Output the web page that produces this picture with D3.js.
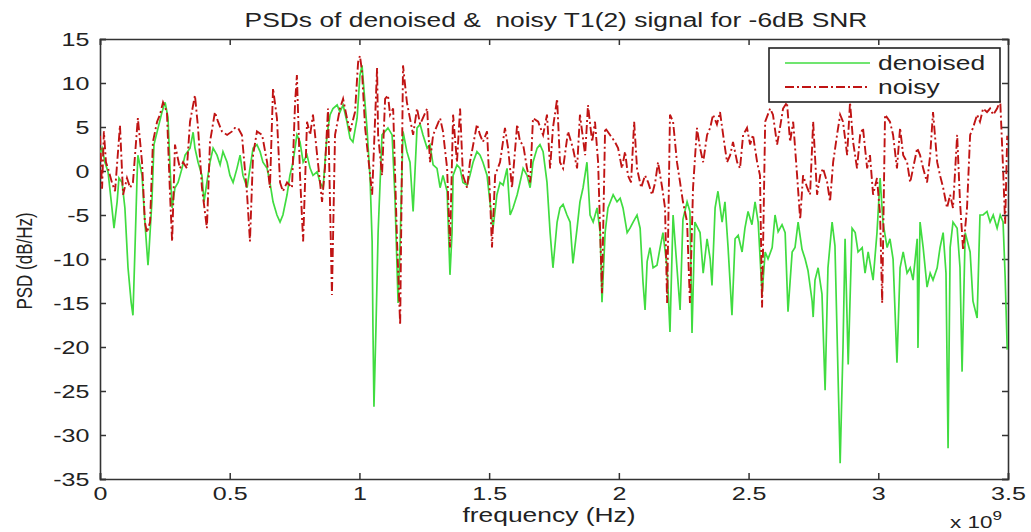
<!DOCTYPE html>
<html>
<head>
<meta charset="utf-8">
<script src="https://cdn.jsdelivr.net/npm/d3@7"></script>
<style>
  body { margin: 0; background: #fff; }
  text { font-family: "Liberation Sans", Arial, sans-serif; fill: #222; }
</style>
</head>
<body>
<div id="canvas"></div>
<script>
"use strict"

let svgWidth = 1031;
let svgHeight = 532;
let plot = {left: 100, right: 1008, top: 39, bottom: 479};
let stretch = 1.32; // the original figure is wider than tall, text looks stretched

/* frequency (x 10^9 Hz), PSD (dB/Hz) */
let denoised = [
  [0.000, 2.0], [0.008, 2.6], [0.019, 1.0], [0.031, -0.1], [0.046, -4.2], [0.054, -6.5], [0.066, -3.5],
  [0.073, -0.8], [0.085, -1.3], [0.096, -4.2], [0.108, -11], [0.120, -14.9], [0.127, -16.4], [0.135, -8.7],
  [0.143, -0.5], [0.146, 1.8], [0.162, -0.5], [0.173, -5.8], [0.185, -10.7], [0.189, -9], [0.200, -3.5],
  [0.208, 3], [0.224, 4.9], [0.239, 6.7], [0.251, 7.8], [0.262, 6.1], [0.270, 0.3], [0.278, -4.2],
  [0.289, -1.9], [0.301, -1.3], [0.316, 0.3], [0.328, 1.8], [0.347, 2.6], [0.359, 4.4], [0.366, 2.6],
  [0.378, 1.0], [0.393, -0.5], [0.401, -3.5], [0.412, -1.3], [0.424, 1.0], [0.436, 2.6], [0.451, 1.8],
  [0.463, 0.7], [0.474, 2.2], [0.490, 1.0], [0.501, -0.5], [0.513, -1.3], [0.528, 0.3], [0.540, 1.8],
  [0.551, -0.5], [0.567, -1.9], [0.578, 0.3], [0.590, 2.6], [0.605, 3.0], [0.617, 2.2], [0.628, 1.0],
  [0.644, 0.3], [0.655, -1.3], [0.667, -3.5], [0.682, -5], [0.694, -5.8], [0.705, -5], [0.721, -2.7],
  [0.732, -0.5], [0.744, 1.0], [0.759, 4.1], [0.771, 3.3], [0.783, 1.0], [0.798, 1.8], [0.810, 0.3],
  [0.821, -0.5], [0.837, -0.1], [0.848, -1.3], [0.860, -1.9], [0.875, 4.1], [0.887, 6.4], [0.898, 7.1],
  [0.914, 7.5], [0.925, 6.7], [0.937, 7.5], [0.952, 5.6], [0.964, 3.7], [0.975, 3.3], [0.991, 6],
  [1.002, 10.9], [1.010, 12], [1.014, 10.5], [1.029, 4.9], [1.041, -0.8], [1.049, -8], [1.052, -17.5],
  [1.056, -26.8], [1.064, -17.5], [1.072, -7], [1.087, 4.1], [1.099, 4.5], [1.110, 4.9], [1.126, 4.1],
  [1.137, -3], [1.149, -15], [1.157, -8], [1.168, 4.5], [1.183, 2.2], [1.195, 1], [1.207, -4.6],
  [1.222, 4.9], [1.234, 5.3], [1.245, 4.1], [1.261, 2.6], [1.272, 3.0], [1.284, 0.7], [1.299, 0.3],
  [1.311, -1.9], [1.322, -0.5], [1.338, -2.3], [1.349, -11.8], [1.357, -7], [1.361, -0.5], [1.376, 0.7],
  [1.388, 0.3], [1.399, -1.3], [1.415, -1.6], [1.426, -0.5], [1.438, 1.0], [1.453, 2.2], [1.465, 1.8],
  [1.476, 1.0], [1.492, -0.5], [1.503, -3.5], [1.515, -6.5], [1.530, -2.7], [1.542, -1.3], [1.554, -1.6],
  [1.569, 0.3], [1.581, -5], [1.592, -4.2], [1.608, -2.7], [1.619, -1.3], [1.631, 0.3], [1.646, -0.5],
  [1.658, -1.9], [1.669, 1.0], [1.685, 2.6], [1.696, 3.0], [1.708, 2.2], [1.723, -1.3], [1.735, -7],
  [1.746, -11], [1.762, -5.8], [1.773, -4.2], [1.785, -3.8], [1.800, -5], [1.812, -5.8], [1.823, -10.5],
  [1.839, -6.5], [1.850, -3.5], [1.862, -1.9], [1.877, 1.0], [1.889, -5], [1.901, -5.8], [1.916, -4.2],
  [1.928, -7], [1.935, -14.9], [1.947, -7], [1.958, -4.2], [1.978, -2.7], [1.993, -3.5], [2.005, -3.1],
  [2.016, -4.2], [2.032, -7], [2.043, -6.5], [2.055, -5.8], [2.070, -5], [2.082, -6.5], [2.093, -12.6],
  [2.101, -15.8], [2.109, -10.3], [2.120, -8.7], [2.132, -11], [2.147, -10.7], [2.159, -8.7], [2.170, -7],
  [2.186, -11], [2.197, -18.3], [2.209, -5], [2.224, -11], [2.236, -15.8], [2.247, -5.5], [2.263, -3.5],
  [2.274, -4.6], [2.282, -18.4], [2.293, -5.8], [2.313, -7], [2.325, -11.6], [2.340, -7.7], [2.352, -10],
  [2.359, -13], [2.371, -4.2], [2.382, -2.3], [2.398, -5.8], [2.409, -3.5], [2.421, -8.7], [2.436, -16.4],
  [2.448, -7.7], [2.460, -7.3], [2.475, -9.2], [2.486, -6.5], [2.498, -4.6], [2.513, -6.1], [2.525, -3.5],
  [2.537, -5.8], [2.552, -14], [2.564, -9.2], [2.575, -10], [2.591, -8.7], [2.602, -5], [2.614, -6.9],
  [2.629, -6.1], [2.641, -7], [2.652, -16], [2.668, -9.2], [2.679, -8.7], [2.691, -5.8], [2.706, -8.9],
  [2.718, -10], [2.729, -11.3], [2.745, -14.8], [2.749, -16.6], [2.756, -12.4], [2.768, -11], [2.783, -14],
  [2.795, -24.9], [2.806, -11], [2.822, -5.8], [2.833, -8.5], [2.853, -33.2], [2.864, -20], [2.872, -7.7],
  [2.884, -22], [2.899, -6.5], [2.911, -7], [2.922, -9.2], [2.938, -8.7], [2.949, -11.6], [2.961, -9.2],
  [2.980, -12.4], [2.995, -7], [3.007, -0.8], [3.018, -5.8], [3.034, -8.7], [3.045, -7.7], [3.057, -10],
  [3.072, -21.8], [3.084, -11], [3.096, -9.2], [3.111, -11.6], [3.123, -11], [3.134, -12.4], [3.150, -7.7],
  [3.153, -20.1], [3.161, -5.8], [3.173, -8.7], [3.188, -13.2], [3.200, -11.6], [3.211, -12.4], [3.227, -11],
  [3.238, -8.7], [3.250, -7], [3.261, -11.6], [3.269, -31.5], [3.277, -8.7], [3.288, -5.8], [3.304, -6.5],
  [3.315, -11], [3.323, -22.8], [3.335, -7], [3.354, -9.2], [3.365, -14.8], [3.381, -16.7], [3.392, -5],
  [3.404, -5], [3.419, -4.6], [3.431, -5.8], [3.443, -5], [3.458, -6.5], [3.470, -5], [3.481, -5.8],
  [3.489, -12], [3.497, -20.3]
];

let noisy = [
  [0.000, 4], [0.008, -2], [0.015, 4.5], [0.023, 1], [0.031, 0.3], [0.046, -1.3], [0.058, -2.3],
  [0.077, 5.2], [0.089, -2.7], [0.104, -0.8], [0.116, -1.9], [0.127, -1.3], [0.143, 4.9], [0.146, 6],
  [0.162, 1], [0.173, -5.8], [0.181, -7], [0.193, -5.8], [0.204, 3.3], [0.220, 5.6], [0.231, 6.4],
  [0.243, 7.8], [0.258, 6.7], [0.270, -2.7], [0.278, -8], [0.289, 3], [0.308, 0.3], [0.320, 1],
  [0.335, 0.3], [0.347, 5.6], [0.366, 8.6], [0.378, 4.9], [0.393, -1.9], [0.412, -6.5], [0.424, 3.3],
  [0.443, 6.7], [0.455, 5.6], [0.470, 4.5], [0.490, 4.1], [0.509, 4.5], [0.520, 4.9], [0.532, 4.9],
  [0.547, 4.1], [0.567, -2.7], [0.578, -8], [0.590, 1.8], [0.605, 4.5], [0.625, 4.1], [0.644, 1],
  [0.655, -1.9], [0.667, 9.4], [0.682, 6], [0.694, -1.3], [0.705, -2.3], [0.721, -1.3], [0.740, -1.9],
  [0.752, 7.8], [0.759, 10.9], [0.771, -0.5], [0.783, -8], [0.798, 5.6], [0.810, 4.1], [0.821, 6.4],
  [0.837, 1.8], [0.856, -3.5], [0.867, 0.3], [0.879, 7.1], [0.894, -14.1], [0.906, 4.1], [0.925, 7.1],
  [0.937, 8.2], [0.952, 6], [0.964, 4.5], [0.983, 6.7], [0.995, 12.4], [1.002, 13.1], [1.010, 11.3],
  [1.022, 4.9], [1.033, 1.8], [1.049, -2.7], [1.068, 11.7], [1.072, 4.1], [1.087, -0.5], [1.099, 8.2],
  [1.110, 8.6], [1.118, 6.4], [1.130, 7.1], [1.145, -8], [1.157, -17.5], [1.168, 12], [1.183, 7.8],
  [1.207, 4.1], [1.222, 7.1], [1.234, 5.3], [1.261, 7.1], [1.272, 1], [1.284, 4.1], [1.311, 6],
  [1.322, 4.5], [1.338, 0.3], [1.349, -8.7], [1.361, 6.4], [1.376, 1], [1.388, 7.1], [1.399, -0.5],
  [1.415, -1.9], [1.426, 1], [1.453, 5.3], [1.465, 4.1], [1.476, 3.3], [1.492, 4.5], [1.503, -2.7],
  [1.511, -8.7], [1.523, -0.5], [1.542, 1], [1.561, 4.9], [1.573, 2.6], [1.588, -1.9], [1.608, 5.3],
  [1.619, 3.3], [1.631, 3], [1.646, 0.3], [1.658, -1.3], [1.669, 6], [1.689, 5.6], [1.708, 4.1],
  [1.723, 6.4], [1.735, 0.3], [1.746, 4.9], [1.762, 8.2], [1.773, 1], [1.785, 0.3], [1.804, 4.5],
  [1.823, 2.6], [1.839, 0.3], [1.850, 6.4], [1.870, 1.8], [1.881, 7.5], [1.897, 3.3], [1.908, 5.6],
  [1.920, 1], [1.935, -13.9], [1.947, 4.9], [1.966, 4.1], [1.985, 3.3], [1.997, 2.6], [2.012, 0.3],
  [2.024, 2.2], [2.035, -0.5], [2.047, -1.3], [2.059, 5.6], [2.070, 0.3], [2.086, -1.9], [2.101, -0.5],
  [2.113, -1.3], [2.128, -2.7], [2.140, -1.3], [2.151, 1], [2.167, -1.9], [2.178, -4.2], [2.186, -15],
  [2.197, 6.4], [2.209, 5.6], [2.224, 1], [2.236, -1.3], [2.247, -3.5], [2.263, -5.8], [2.274, -15],
  [2.286, -1.9], [2.301, 4.9], [2.313, 2.6], [2.325, 1], [2.340, 4.1], [2.352, 4.9], [2.363, 6.4],
  [2.378, 5.3], [2.390, 6.7], [2.402, 4.1], [2.417, 1], [2.429, 1.8], [2.440, 3.3], [2.456, 1],
  [2.467, 0.3], [2.479, 4.1], [2.494, 4.9], [2.506, 3], [2.517, 4.1], [2.533, 1], [2.544, -0.5],
  [2.552, -15.5], [2.564, 5.6], [2.583, 7.1], [2.594, 6.4], [2.610, 3], [2.621, 4.9], [2.633, 7.1],
  [2.648, 7.8], [2.660, 3.3], [2.672, 5.6], [2.687, -0.5], [2.699, -5.5], [2.710, -0.5], [2.726, -1.9],
  [2.737, -2.7], [2.749, 5.6], [2.764, -2.7], [2.776, -0.5], [2.787, 0.3], [2.803, -1.3], [2.814, -3.5],
  [2.826, 1], [2.841, 4.1], [2.853, 6.4], [2.864, 5.6], [2.880, 1.8], [2.891, 7.8], [2.903, 3.3],
  [2.918, 0.3], [2.930, 4.1], [2.941, 4.9], [2.957, 0.3], [2.968, 1.8], [2.980, -2.7], [2.995, -0.8],
  [3.007, -5], [3.015, -15], [3.026, 6.4], [3.045, 5.6], [3.057, 4.1], [3.072, 0.3], [3.084, 4.9],
  [3.096, 1.8], [3.111, 1], [3.123, -1.3], [3.134, 0.3], [3.150, 2.6], [3.161, 1.8], [3.173, 0.3],
  [3.188, -1.3], [3.200, 1.8], [3.211, 6.7], [3.227, 1], [3.238, -0.5], [3.250, -1.9], [3.265, -4.2],
  [3.277, -2.7], [3.288, -4.2], [3.304, 4.1], [3.315, -3.5], [3.327, -9], [3.342, -4.2], [3.354, 4.1],
  [3.365, 4.9], [3.381, 6.4], [3.392, 5.6], [3.404, 7.1], [3.419, 6.7], [3.431, 7.1], [3.443, 6.4],
  [3.458, 7.1], [3.470, 8], [3.481, 0.3], [3.489, -6], [3.497, 4]
];

let xTicks = [0, 0.5, 1, 1.5, 2, 2.5, 3, 3.5];
let yTicks = [-35, -30, -25, -20, -15, -10, -5, 0, 5, 10, 15];

let svg = d3.select("#canvas")
    .append("svg")
    .attr("width", svgWidth)
    .attr("height", svgHeight);

/* Scales */
let xScale = d3.scaleLinear()
    .domain([0, 3.5])
    .range([plot.left, plot.right]);

let yScale = d3.scaleLinear()
    .domain([-35, 15])
    .range([plot.bottom, plot.top]);

svg.append("clipPath")
    .attr("id", "plotClip")
    .append("rect")
    .attr("x", plot.left)
    .attr("y", plot.top)
    .attr("width", plot.right - plot.left)
    .attr("height", plot.bottom - plot.top);

/* Axes, ticks pointing inwards like matlab */
svg.append("g")
    .attr("transform", "translate(0," + plot.bottom + ")")
    .call(d3.axisBottom(xScale).tickValues(xTicks).tickSize(-6).tickPadding(8).tickFormat(d => String(d)));

svg.append("g")
    .attr("transform", "translate(0," + plot.top + ")")
    .call(d3.axisTop(xScale).tickValues(xTicks).tickSize(-6).tickFormat(""));

svg.append("g")
    .attr("transform", "translate(" + plot.left + ",0)")
    .call(d3.axisLeft(yScale).tickValues(yTicks).tickSize(-6).tickPadding(8).tickFormat(d => String(d)));

svg.append("g")
    .attr("transform", "translate(" + plot.right + ",0)")
    .call(d3.axisRight(yScale).tickValues(yTicks).tickSize(-6).tickFormat(""));

svg.selectAll(".domain")
    .attr("stroke", "#333")
    .attr("stroke-width", 1.6);
svg.selectAll(".tick line")
    .attr("stroke", "#333")
    .attr("stroke-width", 1.5);
svg.selectAll(".tick text")
    .style("font-family", "'Liberation Sans', Arial, sans-serif")
    .style("font-size", "19px")
    .attr("fill", "#222")
    .attr("transform", "scale(" + stretch + ",1)");

/* Lines */
let line = d3.line()
    .x(d => xScale(d[0]))
    .y(d => yScale(d[1]));

let lines = svg.append("g").attr("clip-path", "url(#plotClip)");

lines.append("path")
    .datum(denoised)
    .attr("fill", "none")
    .attr("stroke", "#40dc40")
    .attr("stroke-width", 1.7)
    .attr("d", line);

lines.append("path")
    .datum(noisy)
    .attr("fill", "none")
    .attr("stroke", "#c01414")
    .attr("stroke-width", 1.9)
    .attr("stroke-dasharray", "9,3,2,3")
    .attr("d", line);

/* Title and labels */
function label(x, y, size, str, anchor, rotate) {
    return svg.append("text")
        .attr("transform", "translate(" + x + "," + y + ") scale(" + stretch + ",1)" + (rotate ? " rotate(-90)" : ""))
        .attr("text-anchor", anchor)
        .attr("xml:space", "preserve")
        .style("font-size", size + "px")
        .text(str);
}

label(556, 27, 20, "PSDs of denoised &  noisy T1(2) signal for -6dB SNR", "middle");
label(549, 522, 20, "frequency (Hz)", "middle");
label(32, 261, 17, "PSD (dB/Hz)", "middle", true);

let expo = label(950, 528, 17, "x 10", "start");
expo.append("tspan").attr("dy", -8).style("font-size", "13px").text("9");

/* Legend */
let legendItems = [
  {label: "denoised", color: "#40dc40", dash: null, width: 1.7},
  {label: "noisy", color: "#c01414", dash: "9,3,2,3", width: 1.9}
];

svg.append("rect")
    .attr("x", 769)
    .attr("y", 48)
    .attr("width", 231)
    .attr("height", 54)
    .attr("fill", "#fff")
    .attr("stroke", "#222")
    .attr("stroke-width", 1.6);

legendItems.forEach(function(item, index){
    svg.append("line")
        .attr("x1", 785)
        .attr("x2", 870)
        .attr("y1", 63 + index * 24)
        .attr("y2", 63 + index * 24)
        .attr("stroke", item.color)
        .attr("stroke-width", item.width)
        .attr("stroke-dasharray", item.dash);

    label(878, 70 + index * 24, 20, item.label, "start");
});
</script>
</body>
</html>
